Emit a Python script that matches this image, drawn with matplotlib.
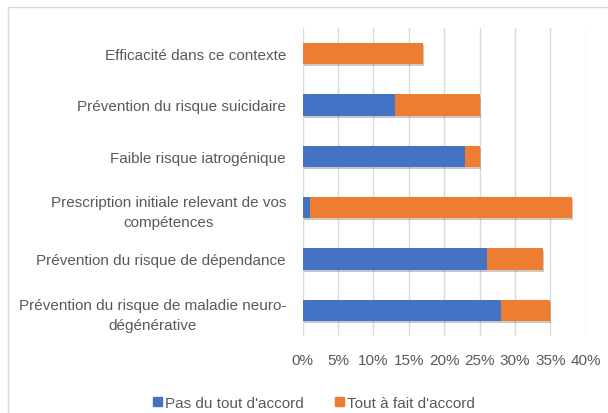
import matplotlib
matplotlib.use("Agg")
import matplotlib.pyplot as plt
import matplotlib.patheffects as pe
from matplotlib.patches import Rectangle, Patch
from matplotlib.ticker import FuncFormatter

categories = [
    "Prévention du risque de maladie neuro-\ndégénérative",
    "Prévention du risque de dépendance",
    "Prescription initiale relevant de vos\ncompétences",
    "Faible risque iatrogénique",
    "Prévention du risque suicidaire",
    "Efficacité dans ce contexte",
]
pas_du_tout = [28, 26, 1, 23, 13, 0]
tout_a_fait = [7, 8, 37, 2, 12, 17]
series_names = ["Pas du tout d'accord", "Tout à fait d'accord"]
xticks = [0, 5, 10, 15, 20, 25, 30, 35, 40]

blue = "#4472C4"
orange = "#ED7D31"
txt = "#595959"

plt.rcParams['font.family'] = ['Liberation Sans Narrow', 'Liberation Sans', 'DejaVu Sans']

fig = plt.figure(figsize=(6.08, 4.14), dpi=100)
ax = fig.add_axes([302.7/608, 1-337/414, (585.7-302.7)/608, (337-29)/414])

y = list(range(len(categories)))
shadow = [pe.SimplePatchShadow(offset=(0.8, -1.5), alpha=0.25), pe.Normal()]
b1 = ax.barh(y, pas_du_tout, height=0.41, color=blue, label=series_names[0], zorder=3)
b2 = ax.barh(y, tout_a_fait, left=pas_du_tout, height=0.41, color=orange, label=series_names[1], zorder=3)
for b in list(b1) + list(b2):
    b.set_path_effects(shadow)

ax.set_xlim(0, 40)
ax.set_ylim(-0.5, len(categories) - 0.5)
ax.set_xticks(xticks)
ax.xaxis.set_major_formatter(FuncFormatter(lambda v, p: f"{int(v)}%"))
ax.set_yticks(y)
ax.set_yticklabels(categories, ma='center', linespacing=1.55)
ax.grid(axis='x', color='#D9D9D9', linewidth=1, zorder=0)
for s in ax.spines.values():
    s.set_visible(False)
ax.tick_params(axis='both', length=0, colors=txt, labelsize=11)
ax.tick_params(axis='x', pad=12)
ax.tick_params(axis='y', pad=12)

handles = [Patch(color=blue), Patch(color=orange)]
fig.legend(handles, series_names, loc='center', bbox_to_anchor=(314/608, 1-404/414),
           ncol=2, frameon=False, fontsize=11, labelcolor=txt, handlelength=0.6,
           handleheight=0.6, handletextpad=0.2, columnspacing=2.0)

fig.patches.append(Rectangle((8/608, -0.1), 1.2, (414-8)/414 + 0.1, transform=fig.transFigure,
                             fill=False, edgecolor='#D9D9D9', linewidth=1))

fig.savefig("out.png", dpi=100, facecolor='white')
